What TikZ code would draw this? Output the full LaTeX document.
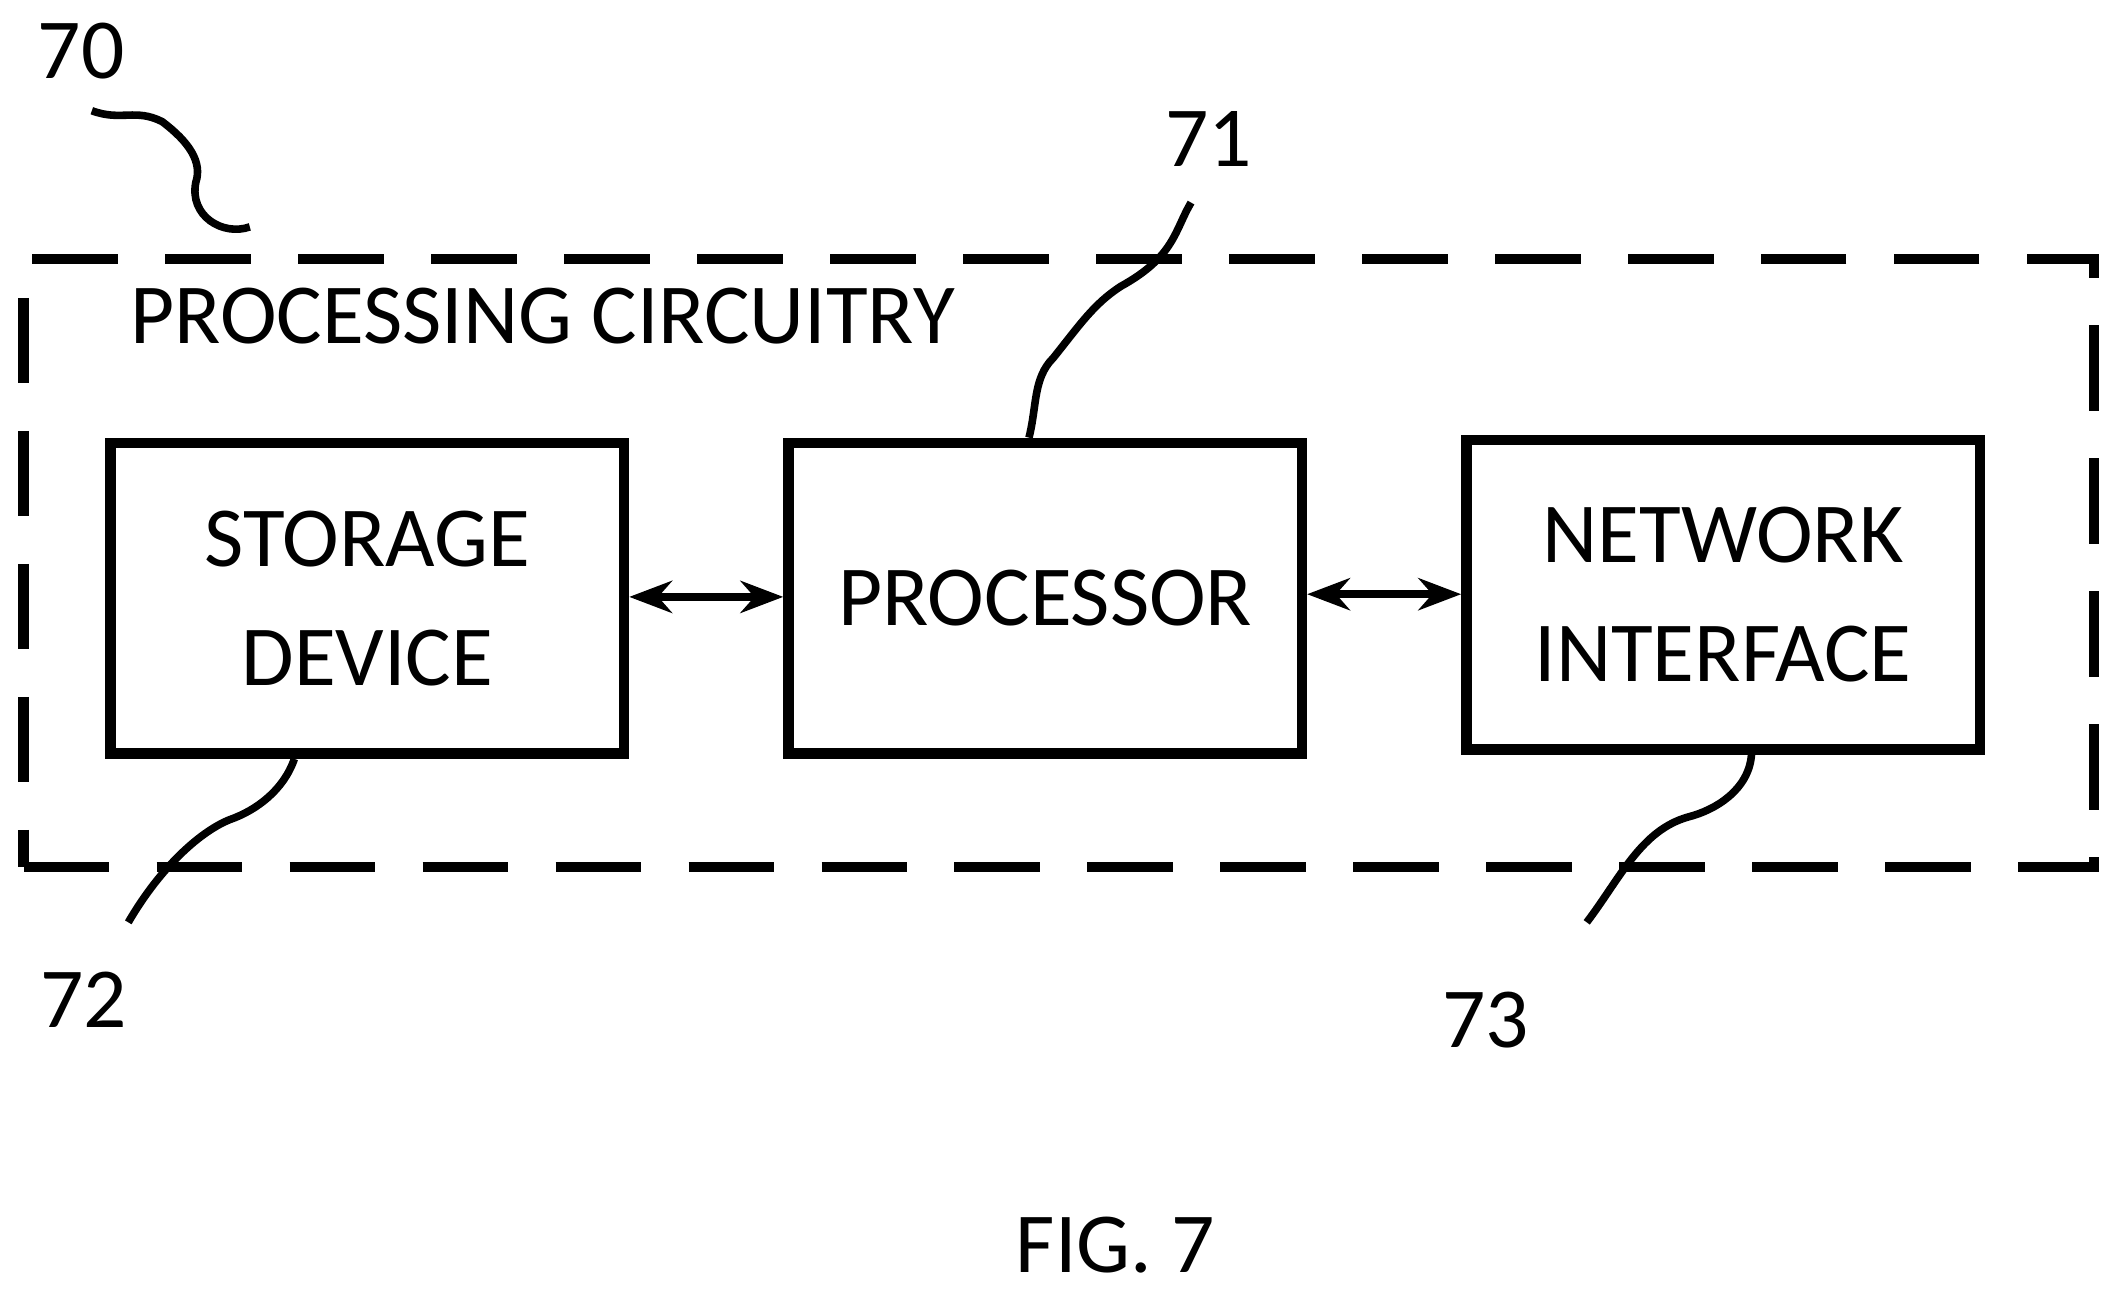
\documentclass[tikz,border=0pt]{standalone}
\usepackage{fontspec}
\setmainfont{Carlito}
\usetikzlibrary{arrows.meta}
\tikzset{block/.style={draw, line width=2.2pt, inner sep=0pt, align=center, font=\fontsize{18}{25}\selectfont},
  lead/.style={line width=1.6pt},
  lbl/.style={font=\fontsize{18}{22}\selectfont}}

\begin{document}
\begin{tikzpicture}[x={(0.01cm,0)}, y={(0,-0.01cm)}]
        \useasboundingbox (0,0) rectangle (1564,956);
        % Frame
        \node[draw, line width=2.2pt, dash pattern=on 18pt off 10pt, minimum width=15.32cm, minimum height=4.5cm, inner sep=0pt] (pc) at (784,417) {};
        \node[lbl, anchor=west] (pctext) at (84,234) {PROCESSING CIRCUITRY};
        % Blocks
        \node[block, minimum width=3.8cm, minimum height=2.3cm] (sd) at (272,443) {STORAGE\\DEVICE};
        \node[block, minimum width=3.8cm, minimum height=2.3cm] (cpu) at (774,443) {PROCESSOR};
        \node[block, minimum width=3.8cm, minimum height=2.29cm] (ni) at (1276,440.5) {NETWORK\\INTERFACE};
        % Arrows
        \draw[{Stealth[length=9pt]}-{Stealth[length=9pt]}, line width=1.8pt] (sd.east |- 0,442) -- (cpu.west |- 0,442);
        \draw[{Stealth[length=9pt]}-{Stealth[length=9pt]}, line width=1.8pt] (cpu.east |- 0,440) -- (ni.west |- 0,440);
        % Leaders
        \node[lbl] (n70) at (60,38) {70};
        \node[lbl] (n71) at (895,103) {71};
        \node[lbl] (n72) at (62,740) {72};
        \node[lbl] (n73) at (1100,755) {73};
        \node[lbl] (fig) at (826,922) {FIG. 7};
        \coordinate (e70) at (68,82);
        \coordinate (e71) at (882,150);
        \coordinate (e72) at (95,683);
        \coordinate (e73) at (1175,683);
        \draw[lead] (e70) .. controls (90,90) and (100,80) .. (120,90) .. controls (140,105) and (150,120) .. (145,135) .. controls (140,160) and (165,175) .. (185,168);
        \draw[lead] (cpu.north -| 762,0) .. controls (768,300) and (765,280) .. (780,265) .. controls (800,240) and (810,225) .. (830,212) .. controls (870,190) and (870,170) .. (e71);
        \draw[lead] (sd.south -| 218,0) .. controls (210,585) and (190,600) .. (170,607) .. controls (150,615) and (120,640) .. (e72);
        \draw[lead] (ni.south -| 1297,0) .. controls (1295,585) and (1270,600) .. (1250,605) .. controls (1215,615) and (1200,650) .. (e73);
\end{tikzpicture}
\end{document}
